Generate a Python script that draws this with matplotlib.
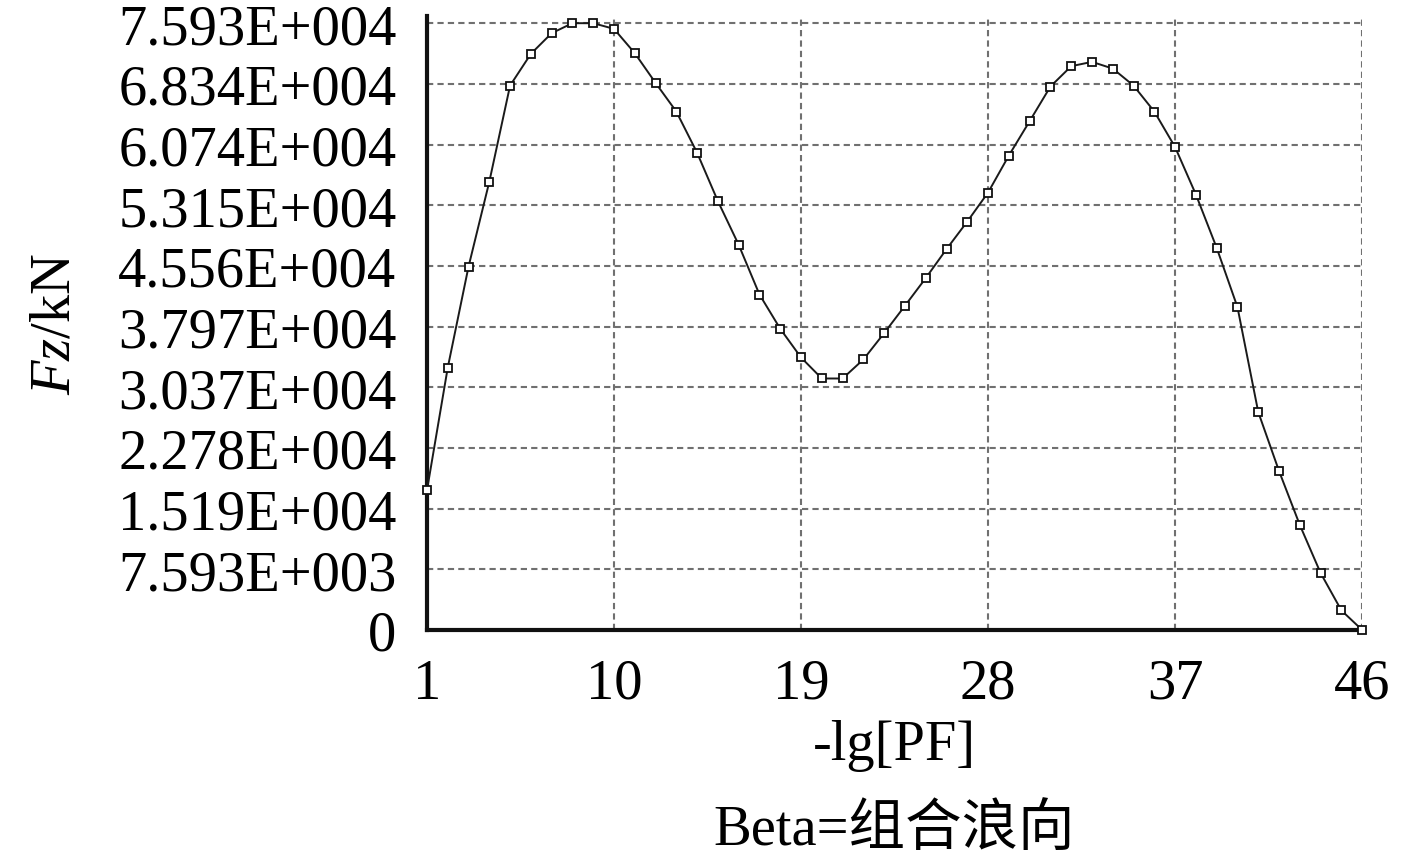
import matplotlib
matplotlib.use("Agg")
import matplotlib.pyplot as plt

plt.rcParams['font.family'] = ['Liberation Serif', 'Noto Sans CJK SC']
plt.rcParams['mathtext.fontset'] = 'custom'
plt.rcParams['mathtext.rm'] = 'Liberation Serif'
plt.rcParams['mathtext.it'] = 'Liberation Serif:italic'

# data
x_vals = list(range(1, 47))
fz_vals = [17460, 32810, 45450, 56080, 68120, 72090, 74680, 75930, 75930, 75220,
           72180, 68460, 64870, 59710, 53660, 48200, 41980, 37690, 34100, 31470,
           31470, 33850, 37150, 40570, 44030, 47660, 51110, 54740, 59370, 63670,
           68000, 70550, 71090, 70250, 68120, 64870, 60420, 54490, 47820, 40400,
           27270, 19890, 13140, 7130, 2450, 0]

x_ticks = [1, 10, 19, 28, 37, 46]
y_ticks = [0, 7593, 15186, 22779, 30372, 37965, 45558, 53151, 60744, 68337, 75930]
y_tick_labels = ['0', '7.593E+003', '1.519E+004', '2.278E+004', '3.037E+004',
                 '3.797E+004', '4.556E+004', '5.315E+004', '6.074E+004',
                 '6.834E+004', '7.593E+004']

fig = plt.figure(figsize=(14.17, 8.62), dpi=100)
ax = fig.add_axes([0.3013, 0.268, 0.66, 0.712])

ax.plot(x_vals, fz_vals, color='#1a1a1a', lw=1.4, marker='s', ms=5.2,
        mfc='white', mec='#111111', mew=1.3, zorder=3, clip_on=False)

ax.set_xlim(1, 46)
ax.set_ylim(0, 76800)
ax.set_xticks(x_ticks)
ax.set_yticks(y_ticks)
ax.set_yticklabels(y_tick_labels)
ax.tick_params(length=0, labelsize=40.7, pad=22)
ax.tick_params(axis='x', pad=20)

ax.grid(True, color='#707070', ls=(0, (3, 2)), lw=1.5)
for s in ['top', 'right']:
    ax.spines[s].set_visible(False)
for s in ['left', 'bottom']:
    ax.spines[s].set_linewidth(3)
    ax.spines[s].set_color('#111111')

fig.text(0.039, 0.624, r'$\mathit{Fz}$/kN', rotation=90, fontsize=40.7,
         ha='center', va='center')
fig.text(0.631, 0.135, '-lg[PF]', fontsize=40.7, ha='center', va='center')
fig.text(0.631, 0.037, 'Beta=组合浪向', fontsize=40.7, ha='center', va='center')

fig.savefig('out.png', dpi=100)
